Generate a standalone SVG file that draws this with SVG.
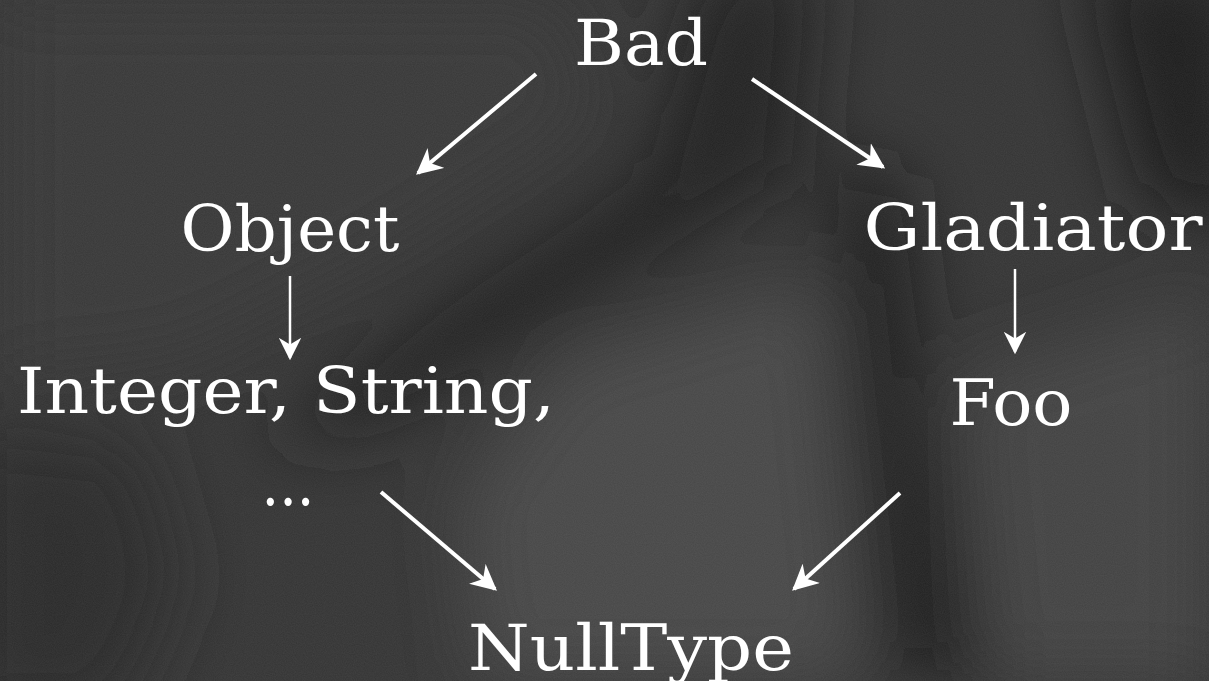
<svg xmlns="http://www.w3.org/2000/svg" width="1209" height="681" viewBox="0 0 1209 681">
<defs>
<style>
.t{font-family:"DejaVu Serif","Liberation Serif",serif;fill:#fff;font-size:64px}
.c{stroke:#fff;stroke-width:4;fill:none}
.v{stroke:#fff;stroke-width:2.5;fill:none}
</style>
<marker id="ah" viewBox="0 0 10 10" refX="9" refY="5" markerWidth="6.5" markerHeight="6.5" markerUnits="strokeWidth" orient="auto">
<path d="M0,0 L10,5 L0,10 L3,5 z" fill="#fff"/>
</marker>
<marker id="ahv" viewBox="0 0 10 10" refX="9" refY="5" markerWidth="9" markerHeight="9" markerUnits="strokeWidth" orient="auto">
<path d="M0,0 L10,5 L0,10 L3,5 z" fill="#fff"/>
</marker>
<filter id="blur" x="-30%" y="-30%" width="160%" height="160%"><feGaussianBlur stdDeviation="35"/></filter>
<filter id="noise"><feTurbulence type="fractalNoise" baseFrequency="0.9" numOctaves="2" seed="3"/><feColorMatrix type="matrix" values="0 0 0 0 1  0 0 0 0 1  0 0 0 0 1  0 0 0 0.07 0"/></filter>
</defs>
<g id="background">
<rect width="1209" height="681" fill="#343434"/>
<g filter="url(#blur)">
<path d="M0,0 L560,0 L600,120 L380,260 L180,360 L0,380 Z" fill="#383838"/>
<path d="M560,360 L820,280 L860,681 L480,681 L460,500 Z" fill="#474747"/>
<path d="M960,380 L1209,300 L1209,681 L990,681 Z" fill="#434343"/>
<path d="M700,-40 L820,-40 L800,180 L560,320 L380,430 L260,440 L440,300 L640,170 Z" fill="#202020"/>
<path d="M830,160 L900,180 L930,420 L990,681 L890,681 L860,420 Z" fill="#1c1c1c"/>
<path d="M1080,-40 L1250,-40 L1250,240 L1140,200 Z" fill="#1e1e1e"/>
<path d="M-40,420 L140,440 L180,580 L120,720 L-40,720 Z" fill="#2c2c2c"/>
</g>
<rect width="1209" height="681" filter="url(#noise)"/>
</g>
<g id="connectors">
<line class="c" x1="536" y1="74" x2="418" y2="173" marker-end="url(#ah)"/>
<line class="c" x1="752" y1="79" x2="883" y2="167" marker-end="url(#ah)"/>
<line class="v" x1="290" y1="276" x2="290" y2="358" marker-end="url(#ahv)"/>
<line class="v" x1="1015" y1="269" x2="1015" y2="352" marker-end="url(#ahv)"/>
<line class="c" x1="381" y1="492" x2="495" y2="589" marker-end="url(#ah)"/>
<line class="c" x1="900" y1="493" x2="794" y2="589" marker-end="url(#ah)"/>
</g>
<g id="node-bad"><text class="t" x="641" y="65" text-anchor="middle" textLength="134" lengthAdjust="spacingAndGlyphs">Bad</text></g>
<g id="node-object"><text class="t" x="290" y="251" text-anchor="middle" textLength="219" lengthAdjust="spacingAndGlyphs">Object</text></g>
<g id="node-gladiator"><text class="t" x="1033" y="250" text-anchor="middle" textLength="339" lengthAdjust="spacingAndGlyphs">Gladiator</text></g>
<g id="node-integer"><text class="t" x="286" y="413" text-anchor="middle" textLength="538" lengthAdjust="spacingAndGlyphs">Integer, String,</text><text class="t" x="288" y="505" text-anchor="middle" textLength="53" lengthAdjust="spacingAndGlyphs">...</text></g>
<g id="node-foo"><text class="t" x="1011" y="425" text-anchor="middle" textLength="123" lengthAdjust="spacingAndGlyphs">Foo</text></g>
<g id="node-nulltype"><text class="t" x="631" y="670" text-anchor="middle" textLength="326" lengthAdjust="spacingAndGlyphs">NullType</text></g>
</svg>
